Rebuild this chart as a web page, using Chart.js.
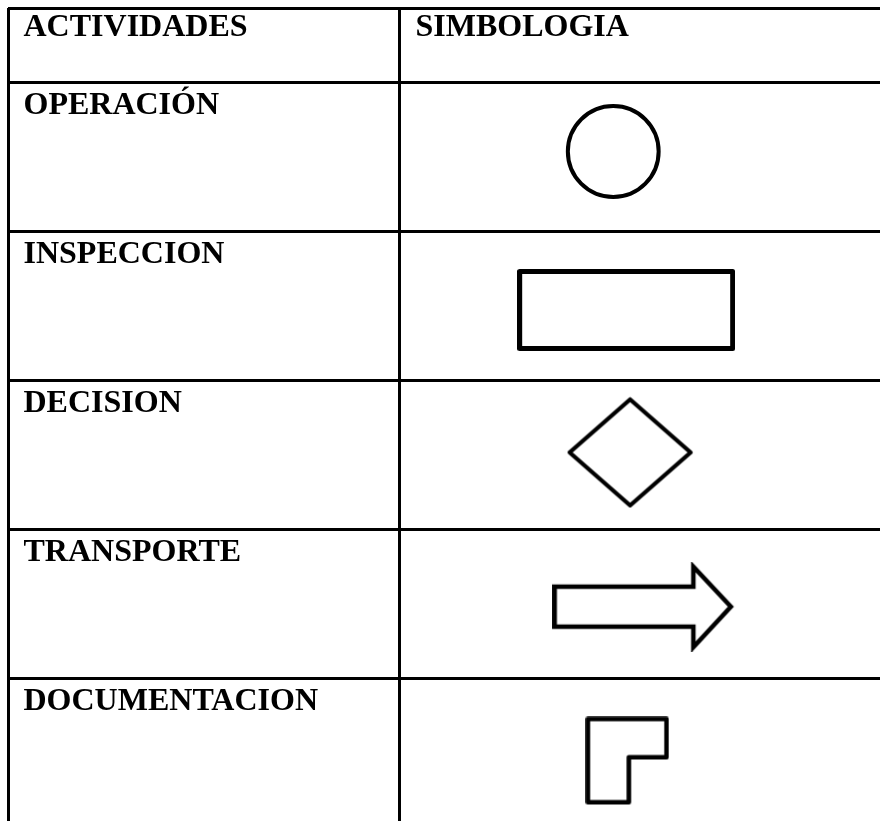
<!DOCTYPE html>
<html>
<head>
<meta charset="utf-8">
<script src="https://cdn.jsdelivr.net/npm/chart.js@4/dist/chart.umd.min.js"></script>
<style>
  html, body { margin: 0; padding: 0; background: #fff; }
  #wrap { width: 880px; height: 821px; position: relative; }
</style>
</head>
<body>
<div id="wrap"><canvas id="c"></canvas></div>
<script>
// ---- data ----
const headers = ['ACTIVIDADES', 'SIMBOLOGIA'];
const categories = ['OPERACIÓN', 'INSPECCION', 'DECISION', 'TRANSPORTE', 'DOCUMENTACION'];
const symbols = ['circle', 'rectangle', 'diamond', 'arrow', 'document'];
// symbol position inside the SIMBOLOGIA column (column units) and row (row units)
const symbolX = [1.544, 1.577, 1.587, 1.622, 1.580];
const symbolY = [0.463, 1.526, 2.482, 3.517, 4.552];
// table rules
const columnEdges = [0, 1];
const rowEdges = [-0.5, 0, 1, 2, 3, 4];

// ---- symbol drawings (styles) ----
function makeCanvas(w, h, draw) {
  const c = document.createElement('canvas');
  c.width = w; c.height = h;
  const g = c.getContext('2d');
  g.strokeStyle = '#000';
  g.fillStyle = '#fff';
  g.lineJoin = 'round';
  g.lineCap = 'round';
  draw(g);
  return c;
}
const shapeStyles = {
  circle: 'circle',
  rectangle: makeCanvas(218, 82, g => {
    g.lineWidth = 5;
    g.beginPath(); g.rect(2.5, 2.5, 213, 77); g.fill(); g.stroke();
  }),
  diamond: makeCanvas(127, 112, g => {
    g.lineWidth = 4.2;
    g.beginPath();
    g.moveTo(63.5, 3); g.lineTo(124, 56); g.lineTo(63.5, 109); g.lineTo(3, 56); g.closePath();
    g.fill(); g.stroke();
  }),
  arrow: makeCanvas(183, 90, g => {
    g.lineWidth = 4.5;
    g.lineJoin = 'miter';
    g.beginPath();
    g.moveTo(2.3, 25); g.lineTo(141, 25); g.lineTo(141, 5); g.lineTo(178.5, 45);
    g.lineTo(141, 85.5); g.lineTo(141, 65); g.lineTo(2.3, 65); g.closePath();
    g.fill(); g.stroke();
  }),
  document: makeCanvas(84, 89, g => {
    g.lineWidth = 4.6;
    g.beginPath();
    g.moveTo(2.5, 2.5); g.lineTo(81.2, 2.5); g.lineTo(81.2, 40.8); g.lineTo(43.5, 40.8);
    g.lineTo(43.5, 85.8); g.lineTo(2.5, 85.8); g.closePath();
    g.fill(); g.stroke();
  })
};

const FONT = 'bold 32px "Liberation Serif", "Times New Roman", serif';

const tableText = {
  id: 'tableText',
  afterDatasetsDraw(chart) {
    const ctx = chart.ctx;
    const xs = chart.scales.x, ys = chart.scales.y;
    ctx.save();
    ctx.fillStyle = '#000';
    ctx.font = FONT;
    ctx.textAlign = 'left';
    ctx.textBaseline = 'alphabetic';
    headers.forEach((h, i) => {
      ctx.fillText(h, xs.getPixelForValue(columnEdges[i]) + 15.5, ys.getPixelForValue(rowEdges[0]) + 27.5);
    });
    categories.forEach((c, i) => {
      ctx.fillText(c, xs.getPixelForValue(columnEdges[0]) + 15.5, ys.getPixelForValue(rowEdges[i + 1]) + 31);
    });
    ctx.restore();
  }
};

new Chart(document.getElementById('c'), {
  type: 'scatter',
  data: {
    labels: categories,
    datasets: [{
      label: 'SIMBOLOGIA',
      data: symbols.map((s, i) => ({ x: symbolX[i], y: symbolY[i] })),
      pointStyle: symbols.map(s => shapeStyles[s]),
      pointRadius: symbols.map(s => s === 'circle' ? 45.4 : 10),
      pointBorderWidth: 4,
      pointBorderColor: '#000',
      pointBackgroundColor: '#fff',
      showLine: false,
      clip: false
    }]
  },
  options: {
    responsive: true,
    maintainAspectRatio: false,
    animation: false,
    events: [],
    layout: { autoPadding: false, padding: { left: 8, top: 8, right: 0, bottom: 0 } },
    plugins: { legend: { display: false }, tooltip: { enabled: false }, title: { display: false } },
    scales: {
      x: {
        type: 'linear', position: 'top', min: 0, max: 2.2245,
        afterBuildTicks: s => { s.ticks = columnEdges.map(v => ({ value: v })); },
        ticks: { display: false },
        border: { display: false },
        grid: { color: '#000', lineWidth: 3, drawTicks: false }
      },
      y: {
        type: 'linear', reverse: true, min: -0.5, max: 4.955,
        afterBuildTicks: s => { s.ticks = rowEdges.map(v => ({ value: v })); },
        ticks: { display: false },
        border: { display: false },
        grid: { color: '#000', lineWidth: 3, drawTicks: false }
      }
    }
  },
  plugins: [tableText]
});
</script>
</body>
</html>
